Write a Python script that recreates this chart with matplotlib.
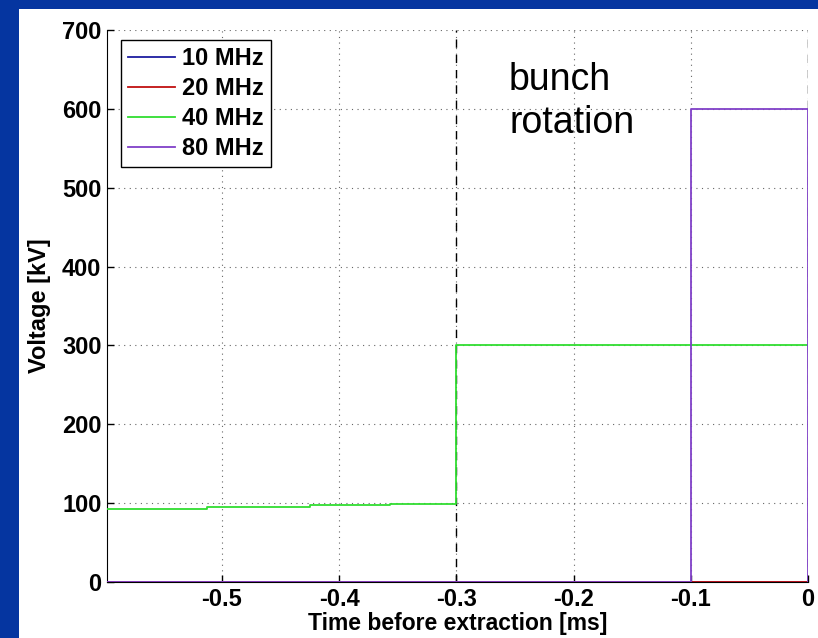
#!/usr/bin/env python3
import matplotlib
matplotlib.use('Agg')
from matplotlib import pyplot as plt
from matplotlib.patches import Rectangle

plt.rcParams['font.family'] = ['Liberation Sans', 'DejaVu Sans']

# series: time before extraction [ms] and voltage [kV] (step curves)
t_10 = [-0.6, 0.0]
v_10 = [0, 0]
t_20 = [-0.6, 0.0]
v_20 = [0, 0]
t_40 = [-0.6, -0.513, -0.425, -0.357, -0.3, 0.0]
v_40 = [93, 95.5, 97.5, 99.5, 300, 300]
t_80 = [-0.6, -0.1, 0.0]
v_80 = [0, 600, 0]

labels = ['10 MHz', '20 MHz', '40 MHz', '80 MHz']
colors = ['#1c1ca0', '#c01010', '#30dd30', '#8040c8']
marks = [-0.3, 0.0]  # dashed markers of the bunch rotation window

xticks = [-0.5, -0.4, -0.3, -0.2, -0.1, 0]
xticklabels = ['-0.5', '-0.4', '-0.3', '-0.2', '-0.1', '0']
yticks = [0, 100, 200, 300, 400, 500, 600, 700]

fig = plt.figure(figsize=(8.18, 6.38), dpi=100)
fig.patch.set_facecolor('white')
# blue slide border on the left and top
blue = '#0535a0'
fig.add_artist(Rectangle((0, 0), 19 / 818, 1, transform=fig.transFigure,
                         facecolor=blue, edgecolor='none'))
fig.add_artist(Rectangle((0, 1 - 9 / 638), 1, 9 / 638, transform=fig.transFigure,
                         facecolor=blue, edgecolor='none'))

ax = fig.add_axes([107 / 818, 56 / 638, 701 / 818, 552 / 638])
for t, v, c, lab in zip([t_10, t_20, t_40, t_80], [v_10, v_20, v_40, v_80],
                        colors, labels):
    ax.plot(t, v, color=c, lw=1.3, drawstyle='steps-post', label=lab,
            zorder=3)

for m in marks:
    ax.axvline(m, color='black', lw=1.0, dashes=(6, 5), zorder=2)

ax.text(-0.255, 660, 'bunch\nrotation', fontsize=27, ha='left', va='top',
        linespacing=1.25)

ax.set_xlim(-0.598, 0)
ax.set_ylim(0, 700)
ax.set_xticks(xticks)
ax.set_xticklabels(xticklabels)
ax.set_yticks(yticks)
ax.grid(True, color='0.4', lw=0.8, dashes=(1, 4))
ax.set_axisbelow(True)
ax.spines['top'].set_visible(False)
ax.spines['right'].set_visible(False)
ax.tick_params(direction='in', length=5, width=1, labelsize=17, pad=4)
for lab in ax.get_xticklabels() + ax.get_yticklabels():
    lab.set_fontweight('bold')
ax.set_xlabel('Time before extraction [ms]', fontsize=16.5, fontweight='bold',
              labelpad=1)
ax.set_ylabel('Voltage [kV]', fontsize=17, fontweight='bold', labelpad=8)

leg = ax.legend(loc='upper left', bbox_to_anchor=(14 / 701, 1 - 10 / 552),
                borderaxespad=0, fancybox=False, framealpha=1,
                edgecolor='black', handlelength=2.0, handletextpad=0.3,
                labelspacing=0.3, borderpad=0.3,
                prop={'size': 17, 'weight': 'bold'})
leg.get_frame().set_linewidth(1.0)

plt.savefig('out.png', dpi=100)
